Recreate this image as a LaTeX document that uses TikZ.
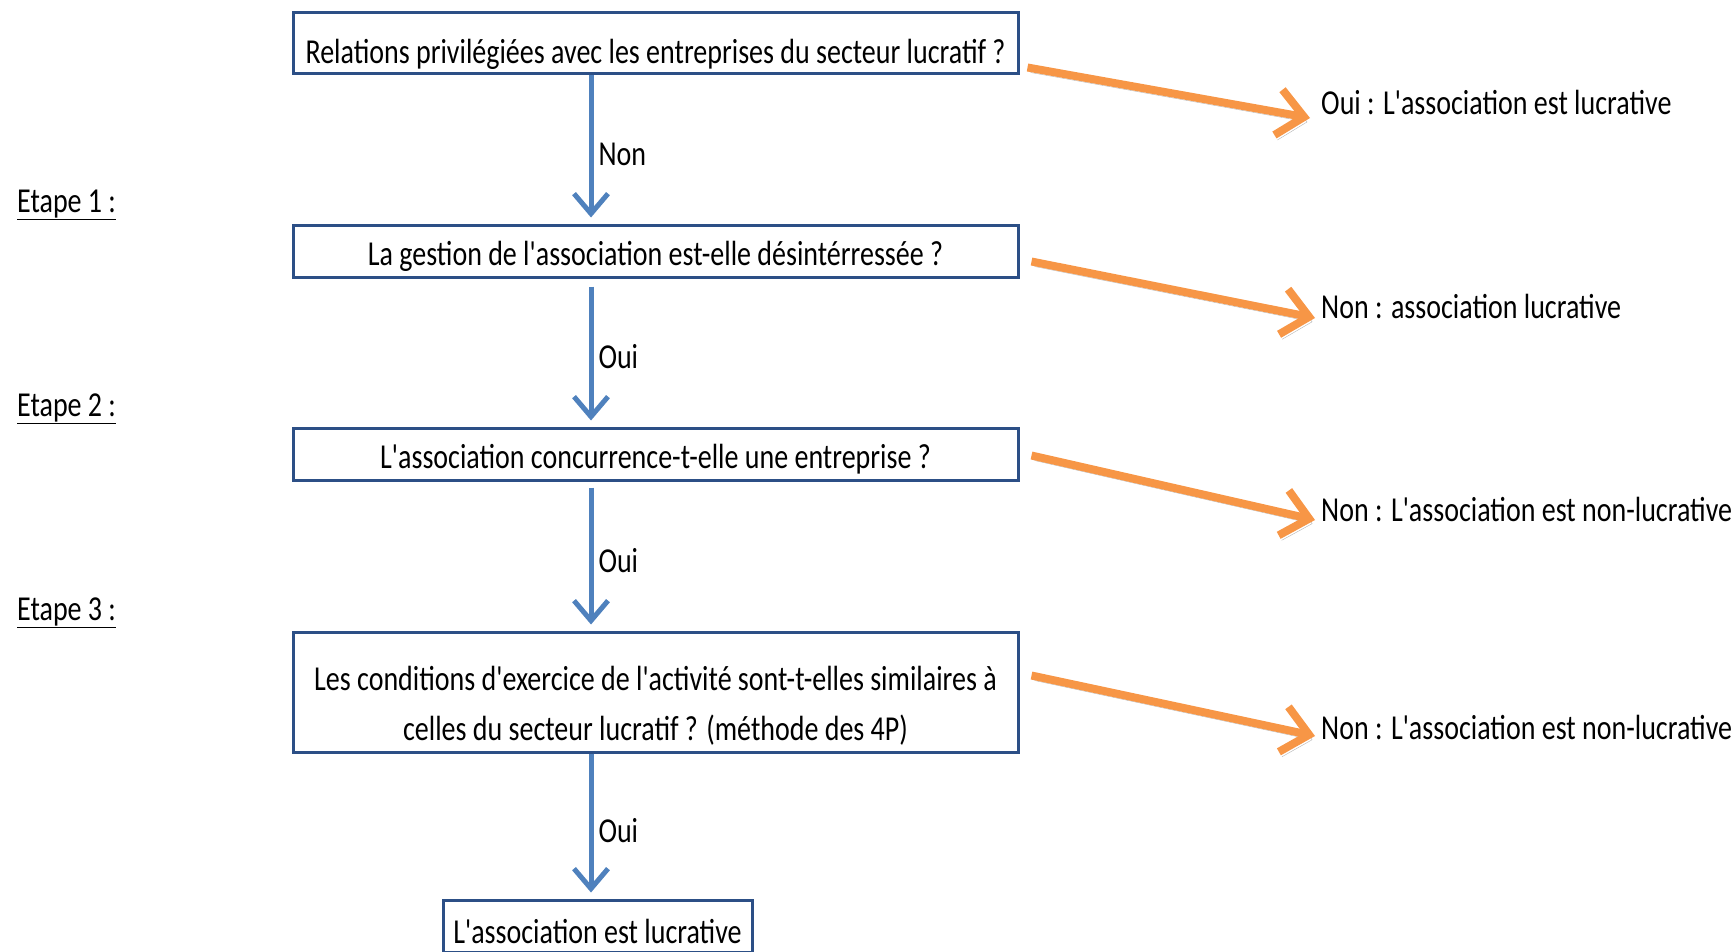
\documentclass[tikz,border=0pt]{standalone}
\usepackage{fontspec}
\setmainfont{Carlito}[FakeStretch=0.8, Ligatures=TeXOff]
\usetikzlibrary{arrows.meta,calc}
\definecolor{boxblue}{HTML}{2C4F86}
\definecolor{arrblue}{HTML}{4F81BD}
\definecolor{arrorange}{HTML}{F79646}
\tikzset{
  qbox/.style={draw=boxblue, line width=3pt, fill=white, inner sep=0pt, align=center,
    font=\fontsize{35}{50}\selectfont, minimum width=725pt},
  lbl/.style={inner sep=0pt, anchor=west, font=\fontsize{35}{40}\selectfont},
  steplbl/.style={inner sep=0pt, anchor=west, font=\fontsize{35}{40}\selectfont},
  yesno/.style={inner sep=0pt, anchor=west, font=\fontsize{35}{40}\selectfont},
  downarrow/.style={draw=arrblue, line width=5pt,
    -{Straight Barb[length=20pt 0, width=34pt 0, line width=5pt]}},
  sidearrow/.style={draw=arrorange, line width=8pt,
    -{Straight Barb[length=26pt 0, width=46pt 0, line width=8pt]},
    preaction={draw=black, opacity=0.3, transform canvas={shift={(3pt,-5pt)}}}},
}
\begin{document}
\begin{tikzpicture}[x=1pt,y=-1pt]
\useasboundingbox (0,0) rectangle (1736,952);
% boxes
\node[qbox, minimum height=61pt, text height=40pt, text depth=0pt] (b1) at (655.5,43.5) {Relations privilégiées avec les entreprises du secteur lucratif ?};
\node[qbox, minimum height=52pt, text height=29pt, text depth=0pt] (b2) at (655.5,251) {La gestion de l'association est-elle désintérressée ?};
\node[qbox, minimum height=52pt, text height=29pt, text depth=0pt] (b3) at (655.5,454) {L'association concurrence-t-elle une entreprise ?};
\node[qbox, minimum height=120pt, text height=108pt, text depth=12pt] (b4) at (655.5,692) {Les conditions d'exercice de l'activité sont-t-elles similaires à\\celles du secteur lucratif ? (méthode des 4P)};
\node[qbox, minimum width=309pt, minimum height=52pt, text height=34pt, text depth=0pt] (b5) at (597.5,926) {L'association est lucrative};
% step labels
\node[steplbl] (e1) at (17,205) {\underline{Etape 1 :}};
\node[steplbl] (e2) at (17,409) {\underline{Etape 2 :}};
\node[steplbl] (e3) at (17,613) {\underline{Etape 3 :}};
% outcome labels
\node[lbl] (r1) at (1321,102) {Oui : L'association est lucrative};
\node[lbl] (r2) at (1321,306) {Non : association lucrative};
\node[lbl] (r3) at (1321,509) {Non : L'association est non-lucrative};
\node[lbl] (r4) at (1321,727) {Non : L'association est non-lucrative};
% vertical arrows
\coordinate (ax) at (591,0);
\draw[downarrow, shorten >=6pt] (b1.south -| ax) -- node[yesno, pos=0.53, xshift=5pt] (n1) {Non} (b2.north -| ax);
\draw[downarrow, shorten >=6pt, shorten <=8pt] (b2.south -| ax) -- node[yesno, pos=0.53, xshift=5pt] (n2) {Oui} (b3.north -| ax);
\draw[downarrow, shorten >=6pt, shorten <=6pt] (b3.south -| ax) -- node[yesno, pos=0.53, xshift=5pt] (n3) {Oui} (b4.north -| ax);
\draw[downarrow, shorten >=6pt] (b4.south -| ax) -- node[yesno, pos=0.53, xshift=5pt] (n4) {Oui} (b5.north -| ax);
% side arrows
\draw[sidearrow] ($(b1.north east)+(8,56)$) -- ($(r1.west)+(-11,16)$);
\draw[sidearrow] ($(b2.north east)+(12,38)$) -- ($(r2.west)+(-6,12)$);
\draw[sidearrow] ($(b3.north east)+(12,29)$) -- ($(r3.west)+(-6,11)$);
\draw[sidearrow] ($(b4.north east)+(12,45)$) -- ($(r4.west)+(-6,9)$);
\end{tikzpicture}
\end{document}
